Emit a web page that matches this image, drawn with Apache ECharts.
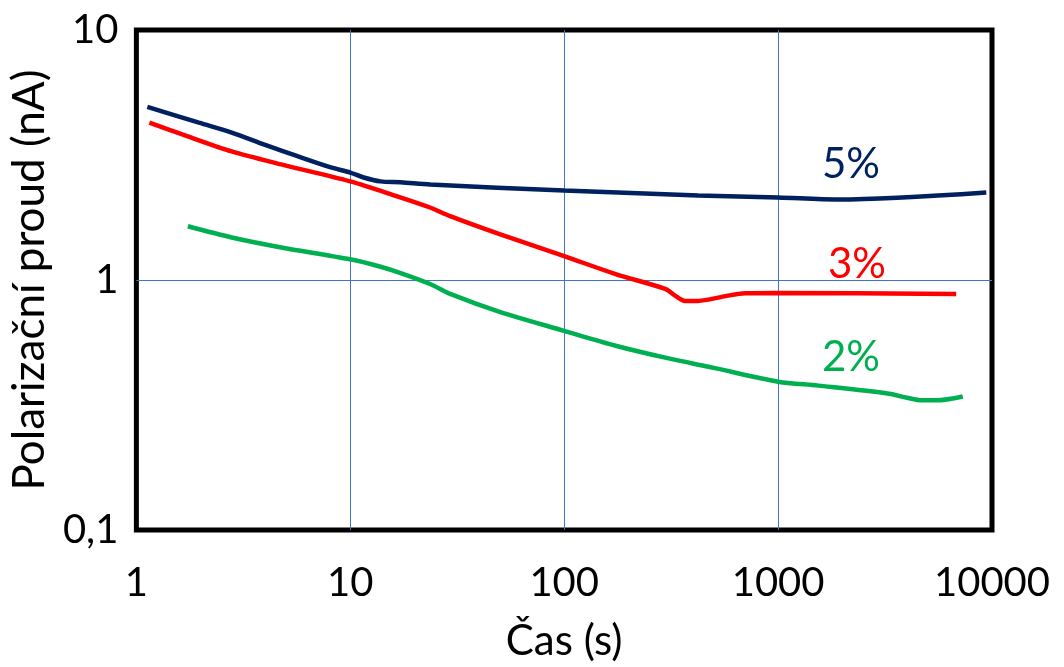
<!DOCTYPE html>
<html><head><meta charset="utf-8">
<script src="https://cdn.jsdelivr.net/npm/echarts@6/dist/echarts.min.js"></script>
<style>html,body{margin:0;padding:0;background:#fff}#c{width:1064px;height:667px}</style>
</head><body><div id="c"></div>
<script>
// Data (time in s, current in nA)
const xTicks = [1, 10, 100, 1000, 10000];
const yTicks = [0.1, 1, 10];
const seriesNames = ['5%', '3%', '2%'];
const s5_x = [1.125, 1.96, 2.79, 3.97, 5.71, 8.12, 10, 11.55, 13.85, 17.2, 23.6, 100, 423, 1000, 1900, 9400];
const s5_y = [4.93, 4.26, 3.89, 3.48, 3.12, 2.82, 2.69, 2.57, 2.48, 2.46, 2.41, 2.28, 2.18, 2.14, 2.10, 2.24];
const s3_x = [1.15, 1.64, 2.79, 4.76, 10, 16.6, 23.6, 29.3, 49.9, 100, 174, 297, 331, 368, 423, 560, 700, 1000, 6800];
const s3_y = [4.26, 3.82, 3.27, 2.90, 2.48, 2.16, 1.95, 1.80, 1.525, 1.246, 1.056, 0.921, 0.864, 0.825, 0.825, 0.86, 0.885, 0.888, 0.88];
const s2_x = [1.74, 2.79, 4.76, 10, 13.85, 17.2, 23.6, 29.3, 49.9, 100, 174, 297, 500, 1000, 1540, 3300, 4000, 4700, 5500, 7300];
const s2_y = [1.64, 1.48, 1.35, 1.21, 1.13, 1.066, 0.964, 0.880, 0.746, 0.626, 0.546, 0.489, 0.445, 0.392, 0.378, 0.351, 0.338, 0.330, 0.330, 0.342];

const colors = ['#002060', '#FF0000', '#00B050'];
const zip = (a, b) => a.map((v, i) => [v, b[i]]);
const FONT = 'Lato';

const chart = echarts.init(document.getElementById('c'));
const lineSeries = (i, data) => ({
  name: seriesNames[i], type: 'line', data, smooth: 0.3,
  showSymbol: false, lineStyle: { color: colors[i], width: 4.5 }
});
chart.setOption({
  animation: false,
  grid: { left: 134, right: 72, top: 30, bottom: 135, show: true, borderColor: '#000', borderWidth: 5, backgroundColor: 'transparent' },
  xAxis: {
    type: 'log', logBase: 10, min: xTicks[0], max: xTicks[xTicks.length - 1],
    name: 'Čas (s)', nameLocation: 'middle', nameGap: 90,
    nameTextStyle: { fontFamily: FONT, fontSize: 42, color: '#000' },
    axisLine: { show: false }, axisTick: { show: false },
    axisLabel: { fontFamily: FONT, fontSize: 40, color: '#000', margin: 33,
      formatter: v => String(Math.round(v)) },
    splitLine: { show: true, showMinLine: false, showMaxLine: false, lineStyle: { color: '#4472C4', width: 1 } },
    minorSplitLine: { show: false }
  },
  yAxis: {
    type: 'log', logBase: 10, min: yTicks[0], max: yTicks[yTicks.length - 1],
    name: 'Polarizační proud (nA)', nameLocation: 'middle', nameGap: 70,
    nameTextStyle: { fontFamily: FONT, fontSize: 44, color: '#000' },
    axisLine: { show: false }, axisTick: { show: false },
    axisLabel: { fontFamily: FONT, fontSize: 40, color: '#000', margin: 18,
      formatter: v => String(v).replace('.', ',') },
    splitLine: { show: true, showMinLine: false, showMaxLine: false, lineStyle: { color: '#4472C4', width: 1 } }
  },
  series: [
    lineSeries(0, zip(s5_x, s5_y)),
    lineSeries(1, zip(s3_x, s3_y)),
    lineSeries(2, zip(s2_x, s2_y))
  ],
  graphic: [
    { type: 'text', left: 822, top: 143, style: { text: seriesNames[0], fill: colors[0], font: '42px Lato' } },
    { type: 'text', left: 828, top: 243, style: { text: seriesNames[1], fill: colors[1], font: '42px Lato' } },
    { type: 'text', left: 822, top: 336, style: { text: seriesNames[2], fill: colors[2], font: '42px Lato' } }
  ]
});
</script></body></html>
